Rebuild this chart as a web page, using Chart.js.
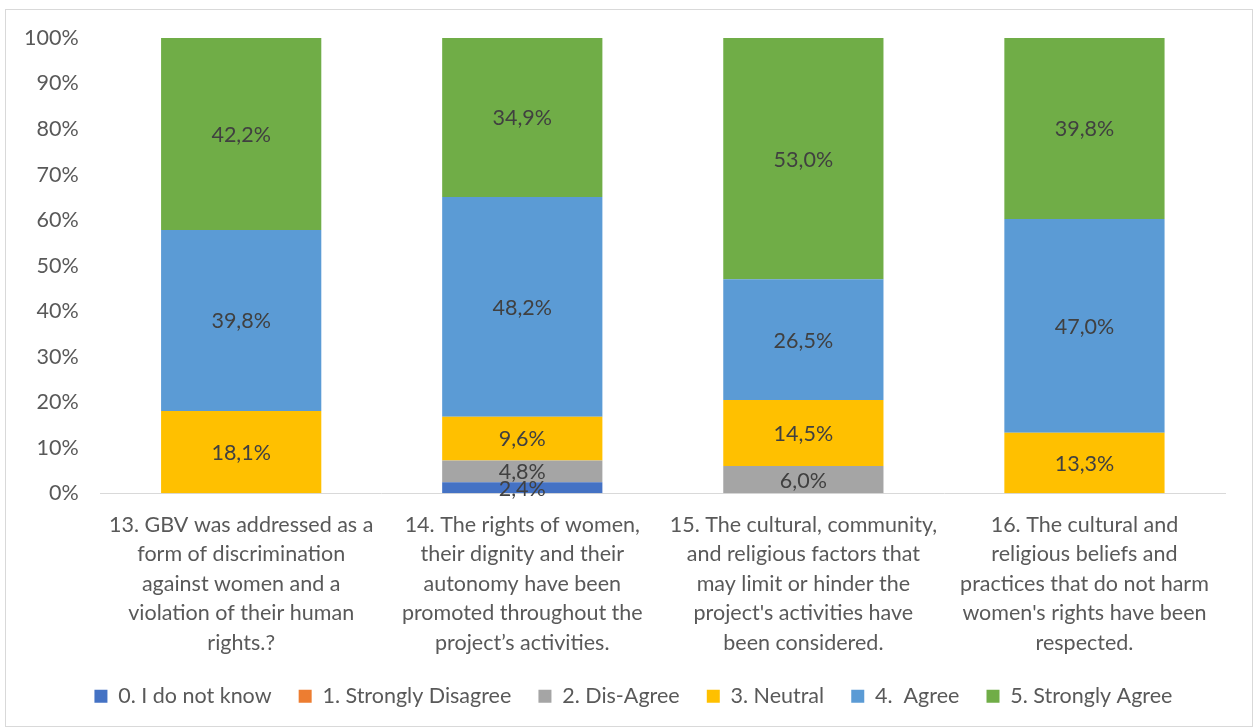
<!DOCTYPE html>
<html>
<head>
<meta charset="utf-8">
<script src="https://cdn.jsdelivr.net/npm/chart.js@4"></script>
<style>
  body { margin: 0; background: #fff; }
  #frame { position: absolute; left: 5px; top: 9px; width: 1246px; height: 716px; border: 1px solid #d9d9d9; }
  #wrap { position: absolute; left: 0; top: 0; width: 1253px; height: 727px; }
</style>
</head>
<body>
<div id="frame"></div>
<div id="wrap"><canvas id="c"></canvas></div>
<script>
// categories (multi-line labels)
const categories = [
  ['13. GBV was addressed as a', 'form of discrimination', 'against women and a', 'violation of their human', 'rights.?'],
  ['14. The rights of women,', 'their dignity and their', 'autonomy have been', 'promoted throughout the', 'project’s activities.'],
  ['15. The cultural, community,', 'and religious factors that', 'may limit or hinder the', "project's activities have", 'been considered.'],
  ['16. The cultural and', 'religious beliefs and', 'practices that do not harm', "women's rights have been", 'respected.']
];
const seriesNames = ['0. I do not know', '1. Strongly Disagree', '2. Dis-Agree', '3. Neutral', '4.  Agree', '5. Strongly Agree'];
const seriesColors = ['#4472C4', '#ED7D31', '#A5A5A5', '#FFC000', '#5B9BD5', '#70AD47'];
// percentages per series, one value per category
const dontKnow = [0, 2.4, 0, 0];
const stronglyDisagree = [0, 0, 0, 0];
const disagree = [0, 4.8, 6.0, 0];
const neutral = [18.1, 9.6, 14.5, 13.3];
const agree = [39.8, 48.2, 26.5, 47.0];
const stronglyAgree = [42.2, 34.9, 53.0, 39.8];
const yTicks = [0, 10, 20, 30, 40, 50, 60, 70, 80, 90, 100];

const allSeries = [dontKnow, stronglyDisagree, disagree, neutral, agree, stronglyAgree];
// 100% stacked: normalize each column
const totals = categories.map((_, i) => allSeries.reduce((s, arr) => s + arr[i], 0));

const datasets = allSeries.map((arr, k) => ({
  label: seriesNames[k],
  data: arr.map((v, i) => v / totals[i] * 100),
  raw: arr,
  backgroundColor: seriesColors[k],
  borderWidth: 0,
  barPercentage: 0.57,
  categoryPercentage: 1
}));

const FONT = 'Lato, "Open Sans", sans-serif';
const SIZE = 21.5;

// 数据标签
const valueLabels = {
  id: 'valueLabels',
  afterDatasetsDraw(chart) {
    const ctx = chart.ctx;
    ctx.save();
    ctx.font = SIZE + 'px ' + FONT;
    ctx.fillStyle = '#404040';
    ctx.textAlign = 'center';
    ctx.textBaseline = 'middle';
    chart.data.datasets.forEach((ds, k) => {
      const meta = chart.getDatasetMeta(k);
      meta.data.forEach((bar, i) => {
        const v = ds.raw[i];
        if (!v) return;
        const y = (bar.y + bar.base) / 2;
        ctx.fillText(v.toFixed(1).replace('.', ',') + '%', bar.x, y + 1);
      });
    });
    ctx.restore();
  }
};

// 图例略微右移
const legendShift = {
  id: 'legendShift',
  afterLayout(chart) {
    chart.legend.left += 28;
    chart.legend.right += 28;
  }
};

new Chart(document.getElementById('c'), {
  type: 'bar',
  data: { labels: categories, datasets: datasets },
  options: {
    responsive: true,
    maintainAspectRatio: false,
    animation: false,
    layout: { padding: { left: 2, right: 28, top: 38, bottom: 10 } },
    scales: {
      x: {
        stacked: true,
        grid: { display: false, drawTicks: false },
        border: { color: '#d9d9d9', width: 1 },
        afterFit(axis) { axis.paddingLeft = 0; axis.paddingRight = 0; },
        ticks: { color: '#595959', font: { family: FONT, size: SIZE, lineHeight: 1.37 }, maxRotation: 0, autoSkip: false, padding: 17 }
      },
      y: {
        stacked: true,
        min: 0,
        max: 100,
        afterBuildTicks(axis) { axis.ticks = yTicks.map(v => ({ value: v })); },
        grid: { display: false, drawTicks: false },
        border: { display: false },
        ticks: { color: '#595959', font: { family: FONT, size: SIZE }, padding: 22, callback: v => v + '%' }
      }
    },
    plugins: {
      legend: {
        position: 'bottom',
        labels: {
          color: '#595959', font: { family: FONT, size: SIZE }, boxWidth: 13, boxHeight: 13, padding: 11,
          // widen item spacing a little without making the legend taller
          generateLabels(chart) {
            return Chart.defaults.plugins.legend.labels.generateLabels(chart).map(l => ({ ...l, text: l.text + '\u2002\u2009\u2009' }));
          }
        }
      },
      tooltip: { enabled: false }
    }
  },
  plugins: [valueLabels, legendShift]
});
</script>
</body>
</html>
